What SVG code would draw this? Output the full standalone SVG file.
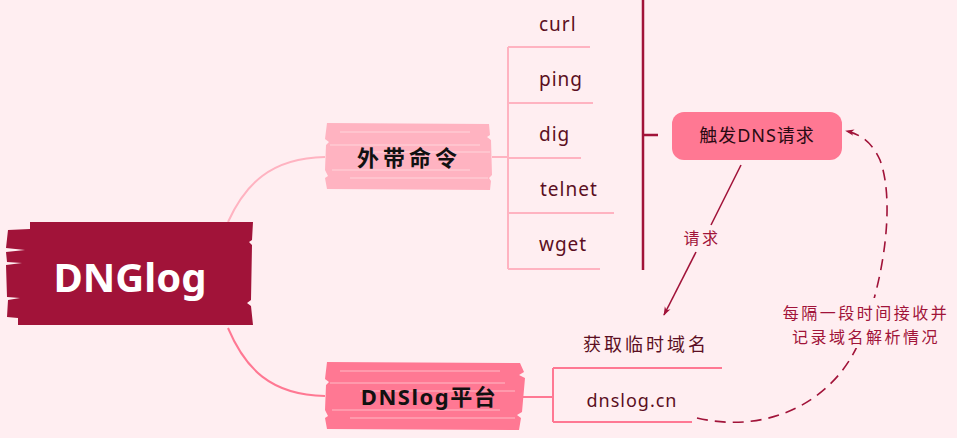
<svg xmlns="http://www.w3.org/2000/svg" width="957" height="438" viewBox="0 0 957 438">
<defs>
<marker id="ah" viewBox="0 0 10 10" refX="9" refY="5" markerWidth="9" markerHeight="9" orient="auto" markerUnits="userSpaceOnUse">
<path d="M0,1.5 L10,5 L0,8.5 L3,5 Z" fill="#A11339"/>
</marker>
<style>
.t{font-family:"Noto Sans","Noto Sans CJK SC",sans-serif;fill:#5B0E22;font-size:18px;text-anchor:middle}
.c{font-size:19px;text-anchor:start;letter-spacing:1px}
.b{font-weight:bold;fill:#111;font-size:22px}
.lp{stroke:#FFB3C1;stroke-width:2;fill:none}
.mp{stroke:#FF7893;stroke-width:2;fill:none}
.dk{stroke:#A11339;fill:none}
.st{stroke:#FFEEF1;stroke-opacity:0.55;stroke-width:1.2}
.lbl{font-family:"Noto Sans","Noto Sans CJK SC",sans-serif;fill:#A11339;font-size:16px;text-anchor:middle;letter-spacing:2.5px}
</style>
</defs>
<rect width="957" height="438" fill="#FFEEF1"/>
<g id="connectors">
<path class="lp" d="M228,222 C245,185 270,158 325,157" stroke-width="3"/>
<path class="mp" d="M228,328 C245,368 270,395 325,396" stroke-width="3"/>
<path class="lp" d="M492,157 H508 M508,47 V269 M508,47 H590 M508,103 H593 M508,158 H581 M508,213 H614 M508,269 H600"/>
<path class="dk" stroke-width="2.5" d="M643,0 V270 M643,135 H658"/>
<path class="mp" d="M520,397 H553 M553,368 V422 M553,368 H722 M553,422 H692"/>
<path class="dk" stroke-width="1.6" d="M741,165 L711,225"/>
<path class="dk" stroke-width="1.6" d="M696,252 L664,315" marker-end="url(#ah)"/>
<text class="lbl" x="702" y="244">请求</text>
<path class="dk" stroke-width="1.6" stroke-dasharray="11,7" d="M697,418 C770,435 835,400 860,340 C885,280 895,200 880,160 C872,142 860,134 846,131" marker-end="url(#ah)"/>
<rect x="776" y="298" width="180" height="50" fill="#FFEEF1"/>
<text class="lbl" x="866" y="319">每隔一段时间接收并</text>
<text class="lbl" x="866" y="343">记录域名解析情况</text>
</g>
<g id="root">
<path fill="#A11339" d="M30,222 L253,222 L252,240 L249,242 L252,245 L251,300 L247,303 L251,306 L253,325 L18,325 L18,318 L7,317 L8,300 L20,298 L7,297 L6,265 L22,263 L7,262 L6,252 L25,250 L6,248 L8,230 L30,229 Z"/>
<text x="130" y="292" style="font-family:'Noto Sans',sans-serif;font-weight:bold;font-size:40px;fill:#fff;text-anchor:middle">DNGlog</text>
</g>
<g id="outband">
<path fill="#FFB3C1" d="M327,123 L489,124 L490,135 L487,137 L491,140 L492,175 L489,178 L491,181 L490,190 L327,189 L325,178 L328,176 L325,170 L326,145 L329,142 L325,139 Z"/>
<path class="st" d="M340,132 H470 M330,145 H480 M360,152 H490 M332,170 H470 M350,178 H488"/>
<text class="t b" x="409" y="166" letter-spacing="4">外带命令</text>
</g>
<g id="platform">
<path fill="#FF7893" d="M327,362 L520,363 L524,372 L519,375 L525,378 L522,412 L517,415 L521,418 L519,430 L327,429 L325,418 L328,416 L325,410 L326,385 L329,382 L325,379 Z"/>
<path class="st" d="M340,371 H500 M330,383 H505 M360,391 H515 M332,410 H500 M350,418 H515"/>
<text class="t b" x="429" y="405" font-size="23" letter-spacing="1.5">DNSlog平台</text>
</g>
<g id="curl"><text class="t c" x="539" y="31">curl</text></g>
<g id="ping"><text class="t c" x="539" y="86">ping</text></g>
<g id="dig"><text class="t c" x="539" y="141">dig</text></g>
<g id="telnet"><text class="t c" x="540" y="196">telnet</text></g>
<g id="wget"><text class="t c" x="539" y="251">wget</text></g>
<g id="trigger">
<rect x="672" y="112" width="170" height="48" rx="12" fill="#FF7893"/>
<text class="t" x="757" y="142" style="fill:#2a0a12" letter-spacing="1">触发DNS请求</text>
</g>
<g id="getdomain"><text class="t" x="646" y="351" letter-spacing="3">获取临时域名</text></g>
<g id="dnslogcn"><text class="t" x="632" y="407" font-size="19" letter-spacing="1">dnslog.cn</text></g>
</svg>
